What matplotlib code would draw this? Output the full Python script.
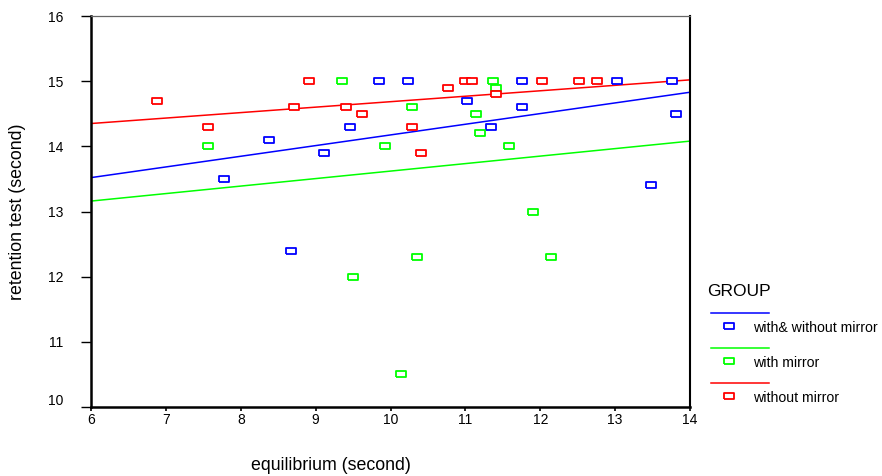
import numpy as np
import matplotlib.pyplot as plt
from matplotlib.lines import Line2D
from matplotlib.transforms import ScaledTranslation

plt.rcParams['font.family'] = ['Liberation Sans', 'DejaVu Sans']

# data
both_x = [7.77, 8.38, 8.67, 9.11, 9.46, 9.85, 10.23, 11.02, 11.34, 11.75, 11.75, 13.02, 13.48, 13.76, 13.81]
both_y = [13.5, 14.1, 12.4, 13.9, 14.3, 15.0, 15.0, 14.7, 14.3, 14.6, 15.0, 15.0, 13.4, 15.0, 14.5]

mirror_x = [7.56, 9.35, 9.5, 9.93, 10.14, 10.29, 10.35, 11.14, 11.19, 11.37, 11.41, 11.58, 11.9, 12.14]
mirror_y = [14.0, 15.0, 12.0, 14.0, 10.5, 14.6, 12.3, 14.5, 14.2, 15.0, 14.9, 14.0, 13.0, 12.3]

nomirror_x = [6.88, 7.56, 8.71, 8.91, 9.4, 9.62, 10.29, 10.41, 10.77, 10.99, 11.09, 11.41, 12.02, 12.52, 12.76]
nomirror_y = [14.7, 14.3, 14.6, 15.0, 14.6, 14.5, 14.3, 13.9, 14.9, 15.0, 15.0, 14.8, 15.0, 15.0, 15.0]

# fit lines (value at x=6 and x=14)
fit_x = [6, 14]
fit_both = [13.52, 14.83]
fit_mirror = [13.16, 14.08]
fit_nomirror = [14.35, 15.02]

groups = ['with& without mirror', 'with mirror', 'without mirror']
colors = ['#0000ff', '#00ff00', '#ff0000']

rect = [(-5, -3), (5, -3), (5, 3), (-5, 3), (-5, -3)]

fig = plt.figure(figsize=(8.82, 4.76), dpi=100)
ax = fig.add_axes([91 / 882, 69 / 476, 599 / 882, 391 / 476])

series = [(both_x, both_y, fit_both), (mirror_x, mirror_y, fit_mirror),
          (nomirror_x, nomirror_y, fit_nomirror)]
for (xs, ys, fit), c in zip(series, colors):
    ax.plot(fit_x, fit, color=c, lw=1.1, zorder=2)
    ax.plot(xs, ys, ls='none', marker=rect, ms=7, mfc='white', mec=c, mew=1.3, zorder=3)

ax.set_xlim(6, 14)
ax.set_ylim(10, 16)
ax.set_xticks(range(6, 15))
ax.set_yticks(range(10, 17))
ax.spines['top'].set_linewidth(0.9)
ax.spines['top'].set_color('#666666')
ax.spines['right'].set_linewidth(1.5)
for s in ['left', 'bottom']:
    ax.spines[s].set_linewidth(1.8)
ax.tick_params(axis='x', direction='out', length=3, width=1.2, labelsize=10, pad=1)
ax.tick_params(axis='y', direction='out', length=7, width=1.0, labelsize=10, pad=13)

# the lowest y label sits a bit higher, clear of the "6"
fig.canvas.draw()
lab10 = ax.get_yticklabels()[0]
lab10.set_transform(lab10.get_transform() + ScaledTranslation(0, 8 / 100, fig.dpi_scale_trans))

fig.text(331 / 882, 1 - 466 / 476, 'equilibrium (second)', ha='center', va='center', fontsize=12.8)
fig.text(18 / 882, 1 - 212 / 476, 'retention test (second)', ha='center', va='center',
         rotation=90, fontsize=12.8)

# legend
fig.text(707 / 882, 1 - 291 / 476, 'GROUP', ha='left', va='center', fontsize=12.5)
for i, (g, c) in enumerate(zip(groups, colors)):
    yl = 313 + i * 35
    fig.add_artist(Line2D([711 / 882, 769 / 882], [1 - yl / 476] * 2, color=c, lw=1.1))
    fig.add_artist(Line2D([729 / 882], [1 - (yl + 13) / 476], ls='none', marker=rect, ms=7,
                          mfc='white', mec=c, mew=1.3))
    fig.text(753 / 882, 1 - (yl + 15) / 476, g, ha='left', va='center', fontsize=10.2)

fig.savefig('out.png', dpi=100)
